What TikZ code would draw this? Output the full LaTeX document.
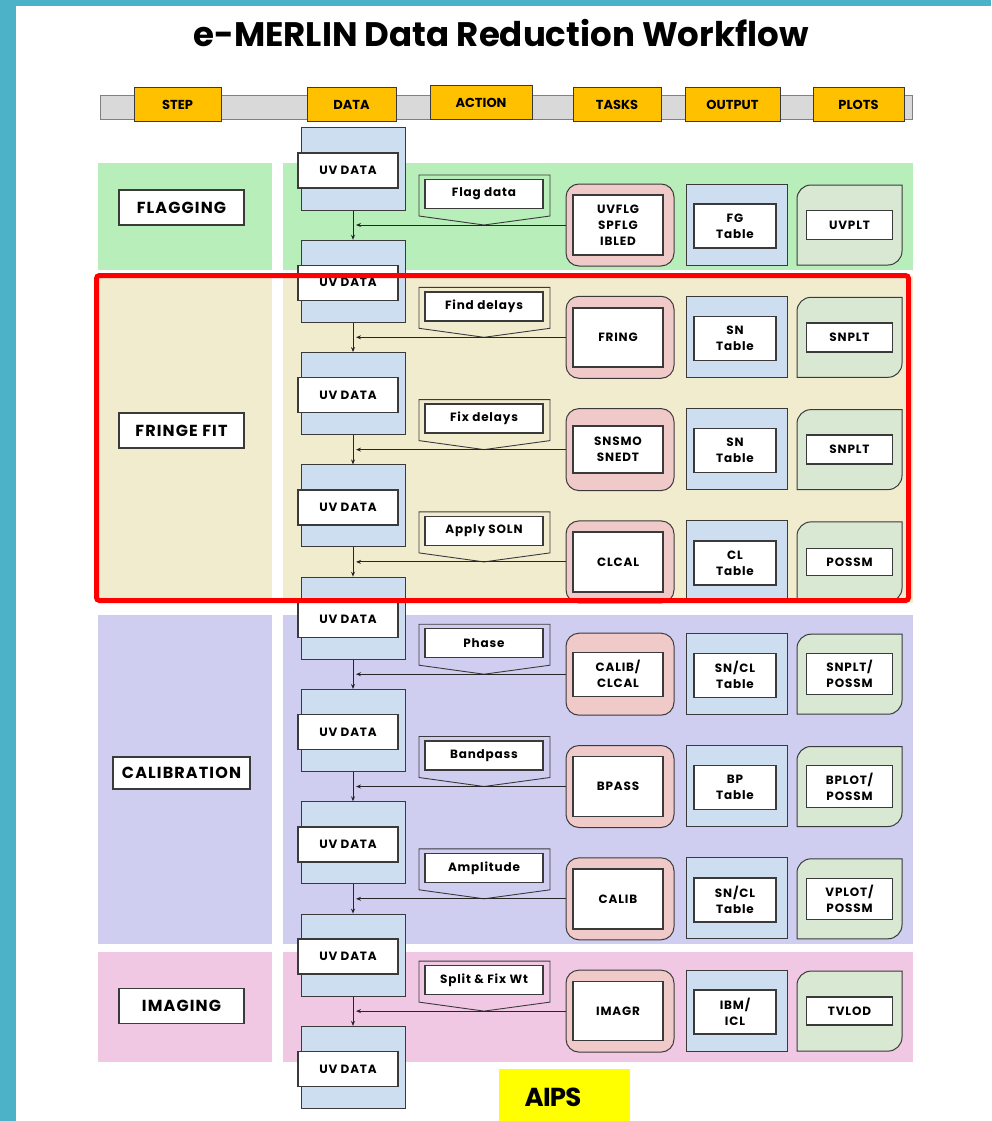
\documentclass[tikz,border=0pt]{standalone}
\usepackage{fontspec}
\setmainfont{Poppins}
\newfontfamily\poppinswide[LetterSpace=7]{Poppins}
\newfontfamily\poppinstight[LetterSpace=-3]{Poppins}
\usetikzlibrary{arrows.meta,positioning,calc}

\definecolor{frame}{HTML}{4BB2C8}
\definecolor{edge}{HTML}{3A3A3A}
\definecolor{hdrgray}{HTML}{D9D9D9}
\definecolor{hdryellow}{HTML}{FFC000}
\definecolor{flaggreen}{HTML}{B7EEB9}
\definecolor{fringebeige}{HTML}{F2ECCF}
\definecolor{caliblav}{HTML}{D0CEF0}
\definecolor{imgpink}{HTML}{F0C8E4}
\definecolor{uvblue}{HTML}{CCDEF0}
\definecolor{taskpink}{HTML}{F0C9C9}
\definecolor{plotgreen}{HTML}{D8E8D2}
\definecolor{aipsyellow}{HTML}{FFFF00}

\newcommand\lblfont{\poppinswide\bfseries\fontsize{12}{16}\selectfont}
\newcommand\actfont{\poppinswide\bfseries\fontsize{12}{16}\selectfont}
\newcommand\hdrfont{\rmfamily\bfseries\fontsize{13}{13}\selectfont}
\newcommand\stepfont{\poppinswide\bfseries\fontsize{16}{16}\selectfont}

\tikzset{
  band/.style={fill=#1, draw=none},
  hdrbox/.style={draw=edge, line width=1pt, fill=hdryellow, minimum height=34pt, font=\hdrfont},
  steplbl/.style={draw=edge, line width=1.2pt, fill=white, minimum width=125pt, minimum height=35pt, font=\stepfont},
  uvblk/.style={draw=edge, line width=1pt, fill=uvblue, minimum width=104pt, minimum height=82pt},
  inbox/.style={draw=edge, line width=1.4pt, fill=white, inner sep=0pt, align=center, font=\lblfont},
  taskblk/.style={draw=edge, line width=1pt, fill=taskpink, rounded corners=13pt, minimum width=108pt, minimum height=82pt},
  outblk/.style={draw=edge, line width=1pt, fill=uvblue, minimum width=101pt, minimum height=81pt},
  plotarea/.style={minimum width=105pt, minimum height=80pt},
  pointer/.style={draw=edge, line width=0.9pt},
  flow/.style={->, draw=black!85, line width=0.9pt},
}

\begin{document}
\begin{tikzpicture}[x=1pt,y=-1pt,>={Stealth[length=5pt,width=4pt]}]
  \useasboundingbox (0,0) rectangle (991,1121);
  % Frame
  \fill[frame] (0,0) rectangle (16,1121);
  \fill[frame] (0,0) rectangle (991,6);
  % Title
  \node[anchor=base, font=\rmfamily\bfseries\fontsize{34}{34}\selectfont] (title) at (501,47) {e-MERLIN Data Reduction Workflow};
  % Header bar
  \node[draw=gray, fill=hdrgray, minimum width=812pt, minimum height=24pt] (hbar) at (506,107) {};
  \node[hdrbox, minimum width=87pt] (hstep) at (177.5,105) {STEP};
  \node[hdrbox, minimum width=89pt] (hdata) at (351.5,105) {DATA};
  \node[hdrbox, minimum width=102pt] (haction) at (481,103) {ACTION};
  \node[hdrbox, minimum width=88pt] (htasks) at (617,105) {TASKS};
  \node[hdrbox, minimum width=95pt] (houtput) at (732.5,105) {OUTPUT};
  \node[hdrbox, minimum width=91pt] (hplots) at (858.5,105) {PLOTS};

  % Bands
  \fill[band=flaggreen] (98,163) rectangle (272,270);
  \fill[band=flaggreen] (283,163) rectangle (913,270);
  \fill[band=fringebeige] (98,276) rectangle (272,603);
  \fill[band=fringebeige] (283,276) rectangle (913,603);
  \fill[band=caliblav] (98,615) rectangle (272,944);
  \fill[band=caliblav] (283,615) rectangle (913,944);
  \fill[band=imgpink] (98,952) rectangle (272,1062);
  \fill[band=imgpink] (283,952) rectangle (913,1062);

  % Steps
  \node[steplbl] (sflag) at (181.5,207.5) {FLAGGING};
  \node[steplbl] (sfringe) at (181.5,430.5) {FRINGE FIT};
  \node[steplbl, minimum width=137pt, minimum height=32pt] (scalib) at (181.5,773) {CALIBRATION};
  \node[steplbl] (simage) at (181.5,1006) {IMAGING};

  % UV data blocks
  \foreach \k in {0,...,8}{
    \pgfmathsetmacro\T{128+112.3*\k}
    \node[uvblk] (uv\k) at (353,\T+41) {};
    \node[inbox, minimum width=100pt, minimum height=35pt] (uvl\k) at (348,\T+42.5) {UV DATA};
  }

  % Rows: action, tasks, output, plots
  \foreach \k/\act/\task/\ti/\outp/\plot/\pi in {
      0/{Flag data}/{UVFLG\\SPFLG\\IBLED}/60/{FG\\Table}/{UVPLT}/29,
      1/{Find delays}/{FRING}/59/{SN\\Table}/{SNPLT}/29,
      2/{Fix delays}/{SNSMO\\SNEDT}/47/{SN\\Table}/{SNPLT}/29,
      3/{Apply SOLN}/{CLCAL}/60/{CL\\Table}/{POSSM}/27,
      4/{Phase}/{CALIB/\\CLCAL}/44/{SN/CL\\Table}/{SNPLT/\\POSSM}/41,
      5/{Bandpass}/{BPASS}/60/{BP\\Table}/{BPLOT/\\POSSM}/42,
      6/{Amplitude}/{CALIB}/60/{SN/CL\\Table}/{VPLOT/\\POSSM}/41,
      7/{Split \& Fix Wt}/{IMAGR}/59/{IBM/\\ICL}/{TVLOD}/28}{
    \pgfmathsetmacro\T{128+112.3*\k}
    \pgfmathtruncatemacro\n{\k+1}
    % action pointer
    \draw[pointer] (419,\T+47) -- (419,\T+88) -- (484,\T+97) -- (550,\T+88) -- (550,\T+47) -- cycle;
    \node[inbox, font=\actfont, minimum width=118pt, minimum height=29pt] (act\k) at (484,\T+66) {\act};
    % task
    \node[taskblk] (task\k) at (620,\T+97) {};
    \node[inbox, minimum width=90pt, minimum height=\ti pt] (tl\k) at (618,\T+97) {\task};
    % output table
    \node[outblk] (out\k) at (736.5,\T+96.5) {};
    \node[inbox, minimum width=82pt, minimum height=44pt] (ol\k) at (735,\T+98) {\outp};
    % plot
    \node[plotarea] (plot\k) at (849.5,\T+97) {};
    \draw[draw=edge, line width=1pt, fill=plotgreen] (797,\T+137) -- (797,\T+71) arc (180:270:14) -- (902,\T+57) -- (902,\T+123) arc (0:90:14) -- cycle;
    \node[inbox, minimum width=86pt, minimum height=\pi pt] (pl\k) at (849.5,\T+97) {\plot};
    % connectors
    \draw[flow] (uv\k.south) -- (uv\n.north);
    \draw[flow, shorten >=3pt] (task\k.west) -- (task\k.west -| uv\k.south);
  }

  % Highlight
  \draw[red, line width=5pt, rounded corners=3pt] (96.5,275.5) rectangle (908.5,600.5);

  % AIPS
  \fill[aipsyellow] (499,1069) rectangle (630,1121);
  \node[font=\poppinstight\bfseries\fontsize{26}{26}\selectfont] (aips) at (553,1097) {AIPS};
\end{tikzpicture}
\end{document}
